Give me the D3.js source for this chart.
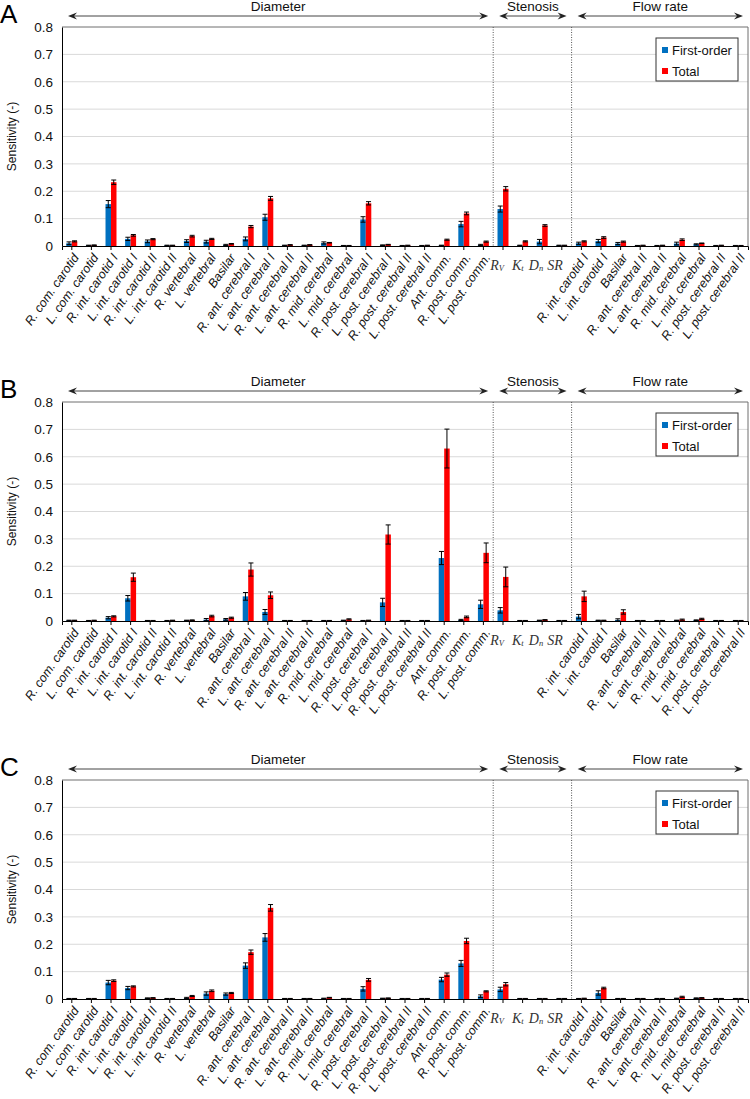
<!DOCTYPE html>
<html><head><meta charset="utf-8">
<script src="https://cdn.jsdelivr.net/npm/d3@7"></script>
<style>body{margin:0;background:#fff}svg{display:block}</style>
</head><body><svg id="c" width="750" height="1099"></svg>
<script>
const categories = ["R. com. carotid","L. com. carotid","R. int. carotid I","L. int. carotid I","R. int. carotid II","L. int. carotid II","R. vertebral","L. vertebral","Basilar","R. ant. cerebral I","L. ant. cerebral I","R. ant. cerebral II","L. ant. cerebral II","R. mid. cerebral","L. mid. cerebral","R. post. cerebral I","L. post. cerebral I","R. post. cerebral II","L. post. cerebral II","Ant. comm.","R. post. comm.","L. post. comm.",
"R_V","K_t","D_n","SR_",
"R. int. carotid I ","L. int. carotid I ","Basilar ","R. ant. cerebral II ","L. ant. cerebral II ","R. mid. cerebral ","L. mid. cerebral ","R. post. cerebral II ","L. post. cerebral II "];
const groupNames = ["Diameter","Stenosis","Flow rate"];
const groupStart = [0,22,26];
const groupEnd = [22,26,35];
const seriesNames = ["First-order","Total"];
const yTicks = [0,0.1,0.2,0.3,0.4,0.5,0.6,0.7,0.8];
const panelLetters = ["A","B","C"];

const A_first = [0.010,0.002,0.153,0.026,0.017,0.002,0.018,0.016,0.004,0.026,0.105,0.002,0.002,0.011,0.001,0.097,0.003,0.001,0.001,0.002,0.080,0.004,0.135,0.002,0.016,0.002,0.010,0.018,0.009,0.001,0.001,0.009,0.006,0.001,0.001];
const A_total = [0.017,0.003,0.233,0.039,0.025,0.002,0.036,0.026,0.008,0.071,0.174,0.004,0.004,0.012,0.001,0.156,0.005,0.002,0.002,0.023,0.119,0.016,0.209,0.017,0.075,0.002,0.017,0.031,0.016,0.002,0.002,0.023,0.010,0.002,0.001];
const A_firstErr = [0.005,0.001,0.013,0.006,0.005,0.001,0.005,0.005,0.002,0.007,0.011,0.001,0.001,0.004,0.001,0.010,0.001,0.001,0.001,0.001,0.010,0.002,0.011,0.001,0.008,0.001,0.004,0.006,0.004,0.001,0.001,0.005,0.002,0.001,0.001];
const A_totalErr = [0.002,0.001,0.008,0.003,0.002,0.001,0.003,0.002,0.001,0.004,0.007,0.001,0.001,0.001,0.001,0.006,0.001,0.001,0.001,0.002,0.005,0.002,0.008,0.002,0.003,0.001,0.002,0.003,0.002,0.001,0.001,0.003,0.001,0.001,0.001];

const B_first = [0.002,0.001,0.012,0.083,0.001,0.001,0.002,0.005,0.006,0.090,0.033,0.001,0.001,0.001,0.002,0.001,0.068,0.001,0.001,0.230,0.004,0.061,0.039,0.001,0.002,0.001,0.016,0.002,0.004,0.001,0.001,0.002,0.003,0.001,0.001];
const B_total = [0.002,0.002,0.017,0.160,0.001,0.002,0.003,0.018,0.012,0.188,0.094,0.001,0.001,0.001,0.006,0.002,0.316,0.001,0.001,0.630,0.015,0.249,0.161,0.001,0.004,0.001,0.090,0.002,0.033,0.001,0.001,0.005,0.008,0.001,0.001];
const B_firstErr = [0.001,0.001,0.004,0.010,0.001,0.001,0.001,0.004,0.003,0.014,0.009,0.001,0.001,0.001,0.001,0.001,0.015,0.001,0.001,0.024,0.002,0.015,0.010,0.001,0.001,0.001,0.008,0.001,0.004,0.001,0.001,0.001,0.001,0.001,0.001];
const B_totalErr = [0.001,0.001,0.002,0.015,0.001,0.001,0.001,0.003,0.002,0.024,0.012,0.001,0.001,0.001,0.002,0.001,0.035,0.001,0.001,0.071,0.003,0.036,0.036,0.001,0.001,0.001,0.019,0.001,0.008,0.001,0.001,0.002,0.002,0.001,0.001];

const C_first = [0.001,0.001,0.060,0.040,0.003,0.001,0.004,0.020,0.018,0.122,0.225,0.001,0.001,0.002,0.001,0.037,0.002,0.001,0.001,0.071,0.130,0.010,0.035,0.001,0.001,0.001,0.001,0.022,0.001,0.001,0.001,0.002,0.003,0.001,0.001];
const C_total = [0.001,0.001,0.067,0.046,0.004,0.001,0.011,0.030,0.022,0.171,0.333,0.001,0.001,0.005,0.001,0.070,0.003,0.001,0.001,0.089,0.212,0.028,0.054,0.001,0.001,0.001,0.002,0.040,0.001,0.001,0.001,0.008,0.004,0.001,0.001];
const C_firstErr = [0.001,0.001,0.008,0.006,0.001,0.001,0.002,0.006,0.004,0.010,0.014,0.001,0.001,0.001,0.001,0.008,0.001,0.001,0.001,0.008,0.011,0.005,0.008,0.001,0.001,0.001,0.001,0.008,0.001,0.001,0.001,0.001,0.001,0.001,0.001];
const C_totalErr = [0.001,0.001,0.003,0.002,0.001,0.001,0.002,0.003,0.002,0.008,0.012,0.001,0.001,0.001,0.001,0.005,0.001,0.001,0.001,0.006,0.010,0.002,0.006,0.001,0.001,0.001,0.001,0.003,0.001,0.001,0.001,0.002,0.001,0.001,0.001];

const panels = [
  {letter:"A", top:27, values:[A_first,A_total], errs:[A_firstErr,A_totalErr]},
  {letter:"B", top:402, values:[B_first,B_total], errs:[B_firstErr,B_totalErr]},
  {letter:"C", top:780, values:[C_first,C_total], errs:[C_firstErr,C_totalErr]}
];
const colors = ["#0070C0","#FF0000"];
const left = 62, right = 748, H = 219;
const svg = d3.select("#c");
svg.append("rect").attr("width",750).attr("height",1099).attr("fill","#fff");

const x = d3.scaleBand().domain(d3.range(categories.length)).range([left,right]).paddingInner(0.44).paddingOuter(0.22);
const xs = d3.scaleBand().domain(seriesNames).range([0,x.bandwidth()]);
const step = x.step();
const font = "'Liberation Sans', Arial, sans-serif";

panels.forEach(p => {
  const g = svg.append("g");
  const y = d3.scaleLinear().domain([0,0.8]).range([p.top+H, p.top]);
  g.selectAll(".grid").data(yTicks.slice(1,-1)).join("line")
    .attr("x1",left).attr("x2",right).attr("y1",d=>y(d)).attr("y2",d=>y(d))
    .attr("stroke","#d9d9d9").attr("stroke-width",1);
  g.append("line").attr("x1",left).attr("x2",right).attr("y1",y(0.8)).attr("y2",y(0.8)).attr("stroke","#6e6e6e");
  g.append("line").attr("x1",right).attr("x2",right).attr("y1",y(0.8)).attr("y2",y(0)).attr("stroke","#6e6e6e");
  [22,26].forEach(i=>{
    const xx = left + step*i;
    g.append("line").attr("x1",xx).attr("x2",xx).attr("y1",y(0.8)).attr("y2",y(0))
      .attr("stroke","#555").attr("stroke-dasharray","1,1.5").attr("stroke-width",1);
  });
  seriesNames.forEach((s,si)=>{
    const vals = p.values[si], errs = p.errs[si];
    g.append("g").selectAll("rect").data(vals).join("rect")
      .attr("x",(d,i)=>x(i)+xs(s)).attr("width",xs.bandwidth())
      .attr("y",d=>y(d)).attr("height",d=>y(0)-y(d)).attr("fill",colors[si]);
    const eg = g.append("g").attr("stroke","#000").attr("stroke-width",1);
    vals.forEach((v,i)=>{
      const cx = x(i)+xs(s)+xs.bandwidth()/2;
      const e = errs[i];
      const y1 = y(Math.max(0,v-e)), y2 = y(v+e);
      eg.append("line").attr("x1",cx).attr("x2",cx).attr("y1",y1).attr("y2",y2);
      eg.append("line").attr("x1",cx-2.5).attr("x2",cx+2.5).attr("y1",y2).attr("y2",y2);
      eg.append("line").attr("x1",cx-2.5).attr("x2",cx+2.5).attr("y1",y1).attr("y2",y1);
    });
  });
  const ya = g.append("g").attr("transform",`translate(${left},0)`)
    .call(d3.axisLeft(y).tickValues(yTicks).tickSize(0).tickPadding(9).tickFormat(d=>d===0?"0":d3.format(".1f")(d)));
  ya.select(".domain").attr("stroke","#000");
  ya.selectAll("text").attr("font-family",font).attr("font-size",13.5).attr("fill","#111");
  const xa = g.append("g").attr("transform",`translate(0,${y(0)})`)
    .call(d3.axisBottom(x).tickSize(4).tickFormat(""));
  xa.select(".domain").attr("stroke","#000");
  xa.selectAll("line").attr("stroke","#000");
  categories.forEach((c,i)=>{
    const cx = x(i)+x.bandwidth()/2;
    if (c.includes("_")) {
      const parts = c.split("_");
      const t = g.append("text").attr("x",cx+1).attr("y",y(0)+24).attr("text-anchor","end")
        .attr("font-family","'Liberation Serif','DejaVu Serif',serif").attr("font-style","italic")
        .attr("font-size",14).attr("fill","#333");
      t.append("tspan").text(parts[0]);
      if (parts[1]) t.append("tspan").attr("font-size",8.5).attr("dy",1).text(parts[1]);
    } else {
      g.append("text").attr("transform",`translate(${cx+4},${y(0)+9}) rotate(-55)`)
        .attr("text-anchor","end").attr("dy","0.35em").attr("font-style","italic")
        .attr("font-family",font).attr("font-size",12.5).attr("fill","#111").text(c.trim());
    }
  });
  g.append("text").attr("transform",`translate(16,${(y(0)+y(0.8))/2}) rotate(-90)`)
    .attr("text-anchor","middle").attr("font-family",font).attr("font-size",12).attr("fill","#111").text("Sensitivity (-)");
  g.append("text").attr("x",0).attr("y",p.top-4).attr("font-family",font).attr("font-size",26).attr("fill","#000").text(p.letter);
  groupNames.forEach((gn,gi)=>{
    const x1 = left + step*groupStart[gi] + 6, x2 = left + step*groupEnd[gi] - 5;
    const ay = p.top - 11;
    g.append("line").attr("x1",x1+3).attr("x2",x2-3).attr("y1",ay).attr("y2",ay).attr("stroke","#444").attr("stroke-width",1);
    const head = (tx,dir) => `M${tx},${ay} L${tx+dir*9},${ay-3.5} L${tx+dir*6},${ay} L${tx+dir*9},${ay+3.5} Z`;
    g.append("path").attr("d",head(x1,1)).attr("fill","#222");
    g.append("path").attr("d",head(x2,-1)).attr("fill","#222");
    g.append("text").attr("x",(x1+x2)/2).attr("y",p.top-16.5).attr("text-anchor","middle")
      .attr("font-family",font).attr("font-size",13.5).attr("fill","#111").text(gn);
  });
  const lg = g.append("g");
  lg.append("rect").attr("x",656).attr("y",p.top+11).attr("width",82).attr("height",43)
    .attr("fill","#fff").attr("stroke","#333").attr("stroke-width",1);
  seriesNames.forEach((s,si)=>{
    const cy = p.top + 23 + si*21;
    lg.append("rect").attr("x",662).attr("y",cy-3).attr("width",6).attr("height",6).attr("fill",colors[si]);
    lg.append("text").attr("x",672).attr("y",cy+4.5).attr("font-family",font).attr("font-size",13).attr("fill","#111").text(s);
  });
});
</script></body></html>
